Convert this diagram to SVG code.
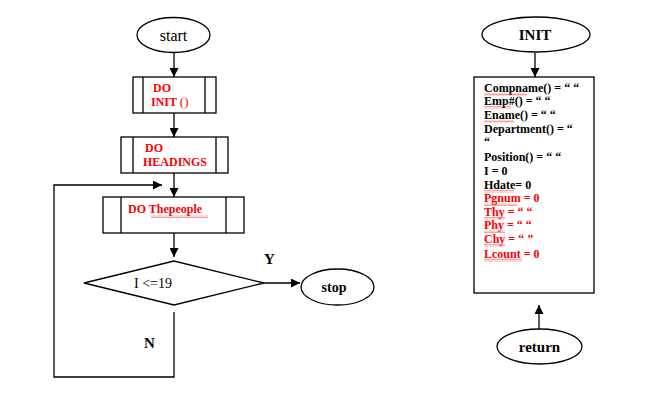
<svg xmlns="http://www.w3.org/2000/svg" width="652" height="410" viewBox="0 0 652 410">
<defs>
<style>
.ln{stroke:#000;stroke-width:1.3;fill:none}
.sh{stroke:#000;stroke-width:1.3;fill:#fff}
.t{font-family:"Liberation Serif","Times New Roman",serif;fill:#000}
.b{font-weight:bold}
.r{fill:#ff0000}
.wv{fill:url(#wave)}
</style>
<marker id="arr" viewBox="0 0 10 10" refX="10" refY="5" markerWidth="9" markerHeight="9" markerUnits="userSpaceOnUse" orient="auto">
<path d="M0,0 L10,5 L0,10 z" fill="#000"/>
</marker>
<pattern id="wave" x="0" y="0" width="4" height="3" patternUnits="userSpaceOnUse">
<polyline points="0,2.5 1,0.5 2,2.5 3,0.5 4,2.5" fill="none" stroke="#ff4040" stroke-width="0.5"/>
</pattern>
</defs>

<g id="connectors">
<line class="ln" x1="174" y1="53" x2="174" y2="77" marker-end="url(#arr)"/>
<line class="ln" x1="174" y1="113" x2="174" y2="137" marker-end="url(#arr)"/>
<line class="ln" x1="174" y1="173" x2="174" y2="197" marker-end="url(#arr)"/>
<line class="ln" x1="174" y1="233" x2="174" y2="257" marker-end="url(#arr)"/>
<line class="ln" x1="264" y1="283" x2="300" y2="283" marker-end="url(#arr)"/>
<polyline class="ln" points="174,312 174,377 54,377 54,185 162,185" marker-end="url(#arr)"/>
<line class="ln" x1="535" y1="53" x2="535" y2="77" marker-end="url(#arr)"/>
<line class="ln" x1="539" y1="329" x2="539" y2="305" marker-end="url(#arr)"/>
<text class="t b" x="264" y="264" font-size="15">Y</text>
<text class="t b" x="144" y="348" font-size="15">N</text>
</g>

<g id="start">
<ellipse class="sh" cx="173.5" cy="35" rx="36.5" ry="17.5"/>
<text class="t" x="173.5" y="41" font-size="16" text-anchor="middle">start</text>
</g>

<g id="do-init">
<rect class="sh" x="133" y="77" width="83" height="36"/>
<line class="ln" x1="143" y1="77" x2="143" y2="113"/>
<line class="ln" x1="205" y1="77" x2="205" y2="113"/>
<text class="t b r" x="153" y="92" font-size="12">DO</text>
<text class="t b r" x="151" y="106" font-size="12">INIT <tspan font-weight="normal" font-size="13">()</tspan></text>
</g>

<g id="do-headings">
<rect class="sh" x="121" y="137" width="107" height="36"/>
<line class="ln" x1="133" y1="137" x2="133" y2="173"/>
<line class="ln" x1="216" y1="137" x2="216" y2="173"/>
<text class="t b r" x="145" y="152" font-size="12">DO</text>
<text class="t b r" x="143" y="166" font-size="12">HEADINGS</text>
</g>

<g id="do-thepeople">
<rect class="sh" x="103" y="197" width="141" height="36"/>
<line class="ln" x1="121" y1="197" x2="121" y2="233"/>
<line class="ln" x1="226" y1="197" x2="226" y2="233"/>
<text class="t b r" x="128" y="213" font-size="12">DO Thepeople</text>
<rect class="wv" x="151" y="215" width="57" height="3"/>
</g>

<g id="decision">
<polygon class="sh" points="84,283 174,261 264,283 174,305"/>
<text class="t" x="134" y="288" font-size="14">I &lt;=19</text>
</g>

<g id="stop">
<ellipse class="sh" cx="337.5" cy="287" rx="36.5" ry="18"/>
<text class="t b" x="334" y="292" font-size="14" text-anchor="middle">stop</text>
</g>

<g id="init">
<ellipse class="sh" cx="536" cy="34.5" rx="54" ry="17.5"/>
<text class="t b" x="535" y="40" font-size="15" text-anchor="middle">INIT</text>
</g>

<g id="init-box">
<rect class="sh" x="474" y="77" width="120" height="216"/>
<g class="t b" font-size="12">
<text x="484" y="92">Compname() = “  “</text>
<text x="484" y="105">Emp#() = “  “</text>
<text x="484" y="119">Ename() = “  “</text>
<text x="484" y="133">Department() = “</text>
<text x="484" y="146">“</text>
<text x="484" y="161">Position() = “  “</text>
<text x="484" y="175">I = 0</text>
<text x="484" y="189">Hdate= 0</text>
<text class="r" x="484" y="202">Pgnum = 0</text>
<text class="r" x="484" y="216">Thy = “ “</text>
<text class="r" x="484" y="229">Phy = “ “</text>
<text class="r" x="484" y="243">Chy = “ ”</text>
<text class="r" x="484" y="258">Lcount = 0</text>
</g>
<rect class="wv" x="484" y="93" width="43" height="3"/>
<rect class="wv" x="484" y="106" width="27" height="3"/>
<rect class="wv" x="484" y="120" width="30" height="3"/>
<rect class="wv" x="484" y="190" width="30" height="3"/>
<rect class="wv" x="484" y="203" width="33" height="3"/>
<rect class="wv" x="484" y="217" width="21" height="3"/>
<rect class="wv" x="484" y="230" width="21" height="3"/>
<rect class="wv" x="484" y="244" width="21" height="3"/>
<rect class="wv" x="484" y="259" width="38" height="3"/>
</g>

<g id="return">
<ellipse class="sh" cx="539.5" cy="346.5" rx="42.5" ry="17.5"/>
<text class="t b" x="539.5" y="352" font-size="15" text-anchor="middle">return</text>
</g>
</svg>
